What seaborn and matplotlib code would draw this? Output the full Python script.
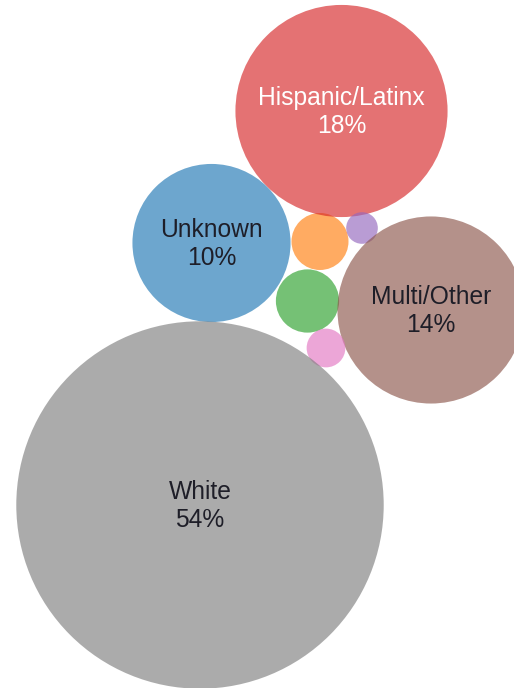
import pandas as pd
import numpy as np
import matplotlib.pyplot as plt
import seaborn as sns

# share of students by race/ethnicity (%)
groups = ["Unknown", "Asian", "Black", "Hispanic/Latinx", "Native American",
          "Multi/Other", "Pacific Islander", "White"]
pct = [10, 1.3, 1.6, 18, 0.4, 14, 0.6, 54]

# bubble layout (pixel positions of centres, packed by hand)
layout_x = [211.5, 320, 307.5, 341.5, 362, 431, 326, 200]
layout_y = [243, 241.5, 301, 111, 228, 310, 348, 505]

W, H, DPI = 514, 688, 100
PX_PER_SQRT_PCT = 25  # radius scale: r = k * sqrt(pct)

sns.set_theme(style="white")
plt.rcParams["font.family"] = ["Liberation Sans", "DejaVu Sans"]

df = pd.DataFrame({"group": groups, "pct": pct, "x": layout_x, "y": layout_y})
df["r"] = PX_PER_SQRT_PCT * np.sqrt(df["pct"])
df["s"] = (2 * df["r"] * 72 / DPI) ** 2

palette = dict(zip(groups, sns.color_palette("tab10", len(groups))))

fig = plt.figure(figsize=(W / DPI, H / DPI), dpi=DPI)
ax = fig.add_axes([0, 0, 1, 1])

sns.scatterplot(data=df, x="x", y="y", hue="group", palette=palette,
                size="group", sizes=dict(zip(df["group"], df["s"])),
                alpha=0.65, linewidth=0, edgecolor="none", legend=False, ax=ax)

for _, row in df.iterrows():
    if row["pct"] < 5:
        continue
    color = "white" if row["group"] == "Hispanic/Latinx" else "#1e1e28"
    ax.text(row["x"], row["y"] + 1, f"{row['group']}\n{row['pct']:.0f}%",
            ha="center", va="center", fontsize=17.7, color=color,
            linespacing=1.2)

ax.set_xlim(0, W)
ax.set_ylim(H, 0)
ax.set_aspect("equal")
ax.axis("off")

plt.savefig("out.png", dpi=DPI)
plt.close()
